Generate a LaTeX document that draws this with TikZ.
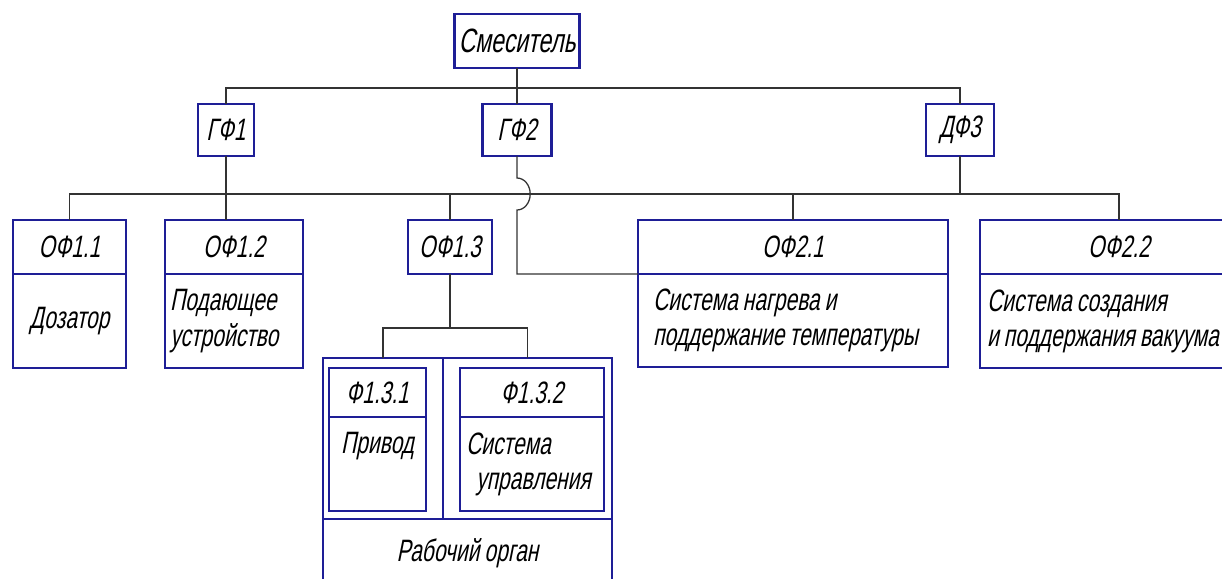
\documentclass[tikz,border=0pt]{standalone}
\usepackage{fontspec}
\newfontfamily\gostfont[FakeStretch=0.68,FakeSlant=0.2,WordSpace=0.85]{Liberation Sans}
\usetikzlibrary{positioning,calc}
\definecolor{frameblue}{RGB}{30,30,150}

\begin{document}
\begin{tikzpicture}[node distance=0pt,
    box/.style={draw=frameblue,line width=1.8pt,outer sep=0pt,inner sep=3pt,font=\gostfont\fontsize{22}{25}\selectfont},
    link/.style={draw=black!80,line width=0.9pt}]
        \useasboundingbox (0,0) rectangle (30.55,-14.45);
        \clip (0,0) rectangle (30.55,-14.45);
        % top levels
        \node[box,minimum width=3.075cm,minimum height=1.35cm,font=\gostfont\fontsize{24}{26}\selectfont] (mixer) at (12.925,-1.025) {Смеситель};
        \node[box,minimum width=1.4cm,minimum height=1.3cm] (gf1) at (5.65,-3.25) {ГФ1};
        \node[box,minimum width=1.725cm,minimum height=1.3cm] (gf2) at (12.925,-3.25) {ГФ2};
        \node[box,minimum width=1.7cm,minimum height=1.3cm] (df3) at (24.0,-3.25) {ДФ3};
        % function blocks
        \node[box,minimum width=2.825cm,minimum height=1.35cm] (of11) at (1.7375,-6.175) {ОФ1.1};
        \node[box,minimum width=2.825cm,minimum height=2.35cm,below=of of11] (of11b) {Дозатор};
        \node[box,minimum width=3.45cm,minimum height=1.35cm] (of12) at (5.85,-6.175) {ОФ1.2};
        \node[box,minimum width=3.45cm,minimum height=2.35cm,text width=3.2cm,align=flush left,below=of of12] (of12b) {Подающее\\устройство};
        \node[box,minimum width=2.1cm,minimum height=1.35cm] (of13) at (11.25,-6.175) {ОФ1.3};
        \node[box,minimum width=7.75cm,minimum height=1.35cm] (of21) at (19.825,-6.175) {ОФ2.1};
        \node[box,minimum width=7.75cm,minimum height=2.325cm,text width=7.0cm,align=flush left,below=of of21] (of21b) {Система нагрева и\\поддержание температуры};
        \node[box,minimum width=6.95cm,minimum height=1.35cm] (of22) at (27.975,-6.175) {ОФ2.2};
        \node[box,minimum width=6.95cm,minimum height=2.35cm,text width=6.6cm,align=flush left,below=of of22] (of22b) {Система создания\\и поддержания вакуума};
        % working unit
        \node[box,minimum width=3.0cm,minimum height=4.025cm] (roL) at (9.575,-10.9625) {};
        \node[box,minimum width=4.225cm,minimum height=4.025cm,right=of roL] (roR) {};
        \node[box,minimum width=7.225cm,minimum height=1.7cm] (roB) at (11.6875,-13.825) {Рабочий орган};
        \node[box,minimum width=2.425cm,minimum height=1.225cm] (f131) at (9.4375,-9.8125) {Ф1.3.1};
        \node[box,minimum width=2.425cm,minimum height=2.35cm,below=of f131] (f131b) {\parbox[c][1.6cm][t]{2.2cm}{\centering Привод}};
        \node[box,minimum width=3.6cm,minimum height=1.225cm] (f132) at (13.3,-9.8125) {Ф1.3.2};
        \node[box,minimum width=3.6cm,minimum height=2.35cm,text width=3.3cm,align=flush left,below=of f132] (f132b) {Система\\\hspace*{0.25cm}управления};
        % links
        \coordinate (bus1) at (0,-2.2);
        \coordinate (bus2) at (0,-4.85);
        \coordinate (bus3) at (0,-8.2);
        \draw[link] (mixer) -- (gf2);
        \draw[link] (gf1.north) |- (bus1 -| df3.north) -- (df3.north);
        \draw[link] (of11.north) |- (bus2 -| of22.north) -- (of22.north);
        \draw[link] (gf1.south) -- (gf1.south |- of12.north);
        \draw[link] (of13.north) -- (of13.north |- bus2);
        \draw[link] (df3.south) -- (df3.south |- bus2);
        \draw[link] (of21.north) -- (of21.north |- bus2);
        \draw[link] (gf2.south) -- ($(gf2.south |- bus2)+(0,0.4)$) arc[start angle=90,end angle=-90,x radius=0.33cm,y radius=0.4cm] |- (of21.south west);
        \draw[link] (of13.south) -- (of13.south |- bus3);
        \draw[link] (roL.north) |- (bus3 -| roR.north) -- (roR.north);
    \end{tikzpicture}
\end{document}
